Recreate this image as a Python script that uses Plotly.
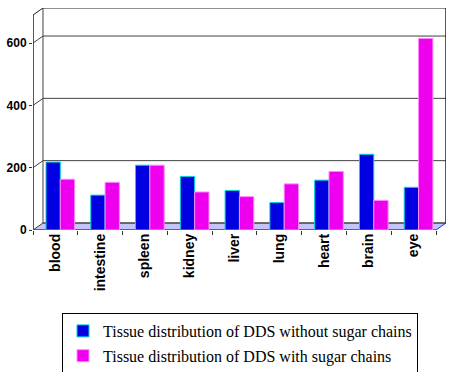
import plotly.graph_objects as go

categories = ["blood", "intestine", "spleen", "kidney", "liver", "lung", "heart", "brain", "eye"]
without_sugar = [218, 112, 208, 172, 127, 88, 160, 243, 137]
with_sugar = [163, 153, 208, 122, 107, 148, 188, 95, 615]
y_ticks = [0, 200, 400, 600]
series_names = ["Tissue distribution of DDS without sugar chains",
                "Tissue distribution of DDS with sugar chains"]

# 3D-look depth offsets (in axis units)
DX = 0.223
DY = 22.6
X0, X1 = -0.5, len(categories) - 0.5
YTOP = 690

fig = go.Figure()
fig.add_trace(go.Bar(
    x=categories, y=without_sugar, name=series_names[0],
    width=0.32, offset=-0.21, legendgroup="a",
    marker=dict(color="#0000e0", line=dict(color="#00d8d8", width=1)),
))
fig.add_trace(go.Bar(
    x=categories, y=with_sugar, name=series_names[1],
    width=0.32, offset=0.11, legendgroup="b",
    marker=dict(color="#ee00ee", line=dict(color="#ff88ff", width=1)),
))

shapes = []
# floor
shapes.append(dict(type="path", xref="x", yref="y", layer="below",
                   path=f"M {X0},0 L {X1},0 L {X1+DX},{DY} L {X0+DX},{DY} Z",
                   fillcolor="#c4c4fa", line=dict(width=0)))
def seg(x0, y0, x1, y1, color="#333333", w=1, layer="below"):
    shapes.append(dict(type="line", xref="x", yref="y", x0=x0, y0=y0, x1=x1, y1=y1,
                       layer=layer, line=dict(color=color, width=w)))
# back wall gridlines + left wall diagonals
for v in y_ticks[1:]:
    seg(X0 + DX, v + DY, X1 + DX, v + DY, "#404040", 1)
    seg(X0, v, X0 + DX, v + DY, "#404040", 1)
# back wall frame
seg(X0 + DX, YTOP + DY, X1 + DX, YTOP + DY, "#202020", 1)
seg(X0 + DX, DY, X0 + DX, YTOP + DY, "#404040", 1)
seg(X1 + DX, DY, X1 + DX, YTOP + DY, "#202020", 1.5)
seg(X0 + DX, DY, X1 + DX, DY, "#404040", 1.5)
# left front axis and top diagonal
seg(X0, 0, X0, YTOP, "#202020", 1.5)
seg(X0, YTOP, X0 + DX, YTOP + DY, "#202020", 1)
seg(X0, 0, X0 + DX, DY, "#404040", 1)
# floor front edge and right diagonal
seg(X0, 0, X1, 0, "#404040", 1.5)
seg(X1, 0, X1 + DX, DY, "#2020ff", 1)

fig.update_layout(
    width=450, height=372,
    margin=dict(l=33, r=4, t=8, b=142, autoexpand=False),
    paper_bgcolor="white", plot_bgcolor="white",
    barmode="group",
    shapes=shapes,
    showlegend=True,
    legend=dict(
        xref="container", yref="container",
        x=62 / 450, y=(372 - 313) / 372, xanchor="left", yanchor="top",
        bgcolor="white", bordercolor="black", borderwidth=1,
        font=dict(family="Liberation Serif", size=16, color="black"),
        traceorder="grouped", tracegroupgap=1,
    ),
    xaxis=dict(
        range=[X0, X1 + DX], type="category", automargin=False,
        showgrid=False, showline=False, zeroline=False,
        ticks="outside", tickson="boundaries", ticklen=4, tickcolor="#333333",
        tickangle=-90,
        tickfont=dict(family="Liberation Sans", size=14, color="black", weight="bold"),
    ),
    yaxis=dict(
        range=[0, YTOP + DY], tickvals=y_ticks, automargin=False,
        showgrid=False, showline=False, zeroline=False,
        ticks="outside", ticklen=3, tickcolor="#333333",
        tickfont=dict(family="Liberation Sans", size=12, color="black", weight="bold"),
    ),
)

fig.write_html("out.html", config={"displayModeBar": False},
               post_script="document.body.style.margin='0';document.body.style.overflow='hidden';")
